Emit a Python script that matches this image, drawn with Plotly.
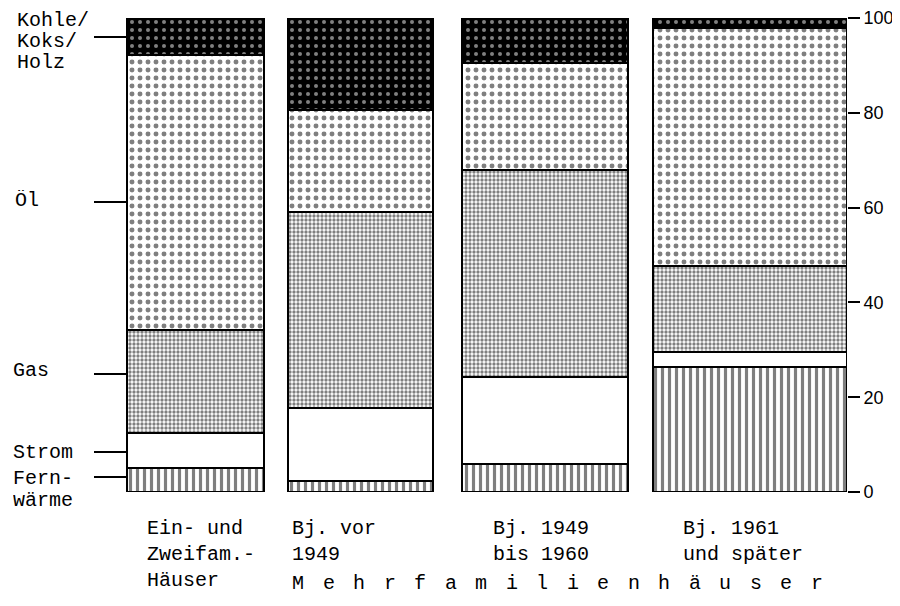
import plotly.graph_objects as go

# Anteile der Heizenergieträger (%) je Gebäudegruppe, von unten nach oben gestapelt
GRUPPEN = ["Ein- und Zweifam.-Häuser", "Bj. vor 1949", "Bj. 1949 bis 1960", "Bj. 1961 und später"]
FERNWAERME = [5.0, 2.3, 5.9, 26.4]
STROM = [7.5, 15.4, 18.4, 3.1]
GAS = [21.7, 41.4, 43.6, 18.2]
OEL = [58.0, 21.5, 22.6, 50.2]
KOHLE = [7.8, 19.4, 9.5, 2.1]

Y_TICKS = [0, 20, 40, 60, 80, 100]

GRUPPEN_TEXT = [
    "Ein- und<br>Zweifam.-<br>Häuser",
    "Bj. vor<br>1949",
    "Bj. 1949<br>bis 1960",
    "Bj. 1961<br>und später",
]
UNTERTITEL = "Mehrfamilienhäuser"

# Beschriftung links: Zeilen, x-Start, y-Mitten der Zeilen, Höhe der Hinweislinie (Pixel)
TRAEGER_ZEILEN = [
    (["Kohle/", "Koks/", "Holz"], 16, [20, 41, 62], 37),
    (["Öl"], 14, [200], 202),
    (["Gas"], 12, [370], 374),
    (["Strom"], 12, [452], 452),
    (["Fern-", "wärme"], 12, [478, 500], 477),
]

# Geometrie in Pixeln der Vorlage; die Seite hat 8 px Rand (body margin)
OFF = 8
W, H = 900 - OFF, 606 - OFF
Y0_PX, Y100_PX = 492, 18
PLOT_RIGHT = 847
BAR_LEFT = [127, 288, 462, 653]
BAR_RIGHT = [264, 433, 628, 847]
bar_x = [(a + b) / 2 for a, b in zip(BAR_LEFT, BAR_RIGHT)]
bar_w = [b - a for a, b in zip(BAR_LEFT, BAR_RIGHT)]


def px(p):
    return (p - OFF) / (PLOT_RIGHT - OFF)


def py(p):
    return (Y0_PX - p) / (Y0_PX - Y100_PX)


MONO = "Liberation Mono, DejaVu Sans Mono, monospace"
TEXTFONT = dict(family=MONO, size=20, color="black")
LINE = dict(color="black", width=2.5)

fig = go.Figure()

serien = [
    ("Fernwärme", FERNWAERME, dict(shape="|", fgcolor="black", bgcolor="white", size=7, solidity=0.45)),
    ("Strom", STROM, None),
    ("Gas", GAS, dict(shape=".", fgcolor="black", bgcolor="white", size=4, solidity=0.55)),
    ("Öl", OEL, dict(shape=".", fgcolor="black", bgcolor="white", size=8, solidity=0.3)),
    ("Kohle/Koks/Holz", KOHLE, dict(shape=".", fgcolor="white", bgcolor="black", size=8, solidity=0.2)),
]

for name, werte, pattern in serien:
    marker = dict(color="white", line=LINE)
    if pattern:
        marker["pattern"] = pattern
    fig.add_trace(go.Bar(
        x=bar_x,
        y=werte,
        width=bar_w,
        name=name,
        marker=marker,
        customdata=GRUPPEN,
        hovertemplate="%{customdata}<br>" + name + ": %{y:.1f} %<extra></extra>",
    ))

annotations = []
shapes = []


def text(x, y, t, yanchor="middle", height=None):
    ann = dict(
        x=px(x), y=py(y), xref="paper", yref="paper", text=t, showarrow=False,
        xanchor="left", yanchor=yanchor, align="left", font=TEXTFONT, borderpad=0,
    )
    if height:
        ann["height"] = height
    annotations.append(ann)


for zeilen, x0, ys, y_linie in TRAEGER_ZEILEN:
    for t, yp in zip(zeilen, ys):
        text(x0, yp, t, height=20)
    shapes.append(dict(
        type="line", xref="paper", yref="paper", x0=px(94), x1=px(BAR_LEFT[0]),
        y0=py(y_linie), y1=py(y_linie), line=dict(color="black", width=2),
    ))

TEXT_LEFT = [146, 291, 492, 682]
TEXT_TOP = 516
for x0, t in zip(TEXT_LEFT, GRUPPEN_TEXT):
    text(x0, TEXT_TOP, t, yanchor="top")

# gesperrt gesetzter Untertitel
for i, ch in enumerate(UNTERTITEL):
    text(291 + i * 30.5, 583, ch)

fig.update_layout(
    width=W,
    height=H,
    margin=dict(l=0, r=W - (PLOT_RIGHT - OFF), t=Y100_PX - OFF, b=H - (Y0_PX - OFF), pad=0),
    paper_bgcolor="white",
    plot_bgcolor="white",
    barmode="stack",
    bargap=0,
    showlegend=False,
    xaxis=dict(range=[OFF, PLOT_RIGHT], visible=False, fixedrange=True, automargin=False),
    yaxis=dict(
        range=[0, 100],
        side="right",
        tickvals=Y_TICKS,
        ticks="outside",
        ticklen=12,
        tickwidth=2,
        tickcolor="black",
        showgrid=False,
        zeroline=False,
        showline=False,
        automargin=False,
        tickfont=dict(family="Liberation Sans, Arial, sans-serif", size=18, color="black"),
        fixedrange=True,
    ),
    annotations=annotations,
    shapes=shapes,
)

fig.write_html("out.html")
